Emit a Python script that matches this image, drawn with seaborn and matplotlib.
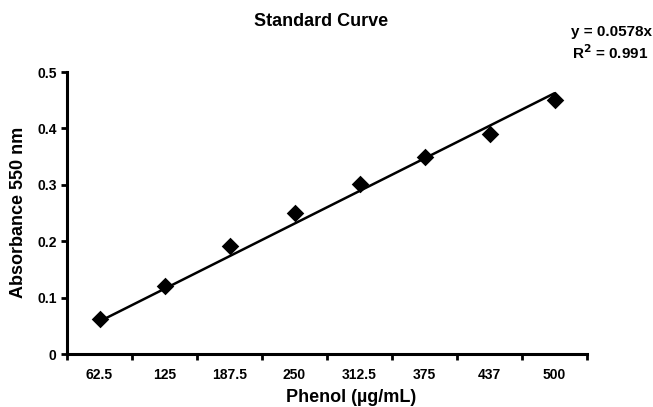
import numpy as np
import pandas as pd
import seaborn as sns
import matplotlib.pyplot as plt

# Standard curve data
phenol_labels = ['62.5', '125', '187.5', '250', '312.5', '375', '437', '500']
absorbance = [0.062, 0.120, 0.191, 0.250, 0.301, 0.349, 0.390, 0.450]
slope = 0.0578
r_squared = 0.991

df = pd.DataFrame({'idx': np.arange(1, len(phenol_labels) + 1), 'abs': absorbance})
df['fit'] = slope * df['idx']

sns.set_style('white')
plt.rcParams['font.family'] = ['Liberation Sans', 'DejaVu Sans']
plt.rcParams['font.weight'] = 'bold'
plt.rcParams['text.color'] = 'black'
plt.rcParams['axes.labelcolor'] = 'black'
plt.rcParams['xtick.color'] = 'black'
plt.rcParams['ytick.color'] = 'black'

fig = plt.figure(figsize=(6.53, 4.07), dpi=100)
ax = fig.add_axes([67 / 653, 1 - 354 / 407, (587 - 67) / 653, (354 - 72) / 407])

sns.lineplot(data=df, x='idx', y='fit', color='black', linewidth=1.8, ax=ax)
sns.scatterplot(data=df, x='idx', y='abs', marker='D', s=80, color='black',
                edgecolor='black', linewidth=0, ax=ax, zorder=3)

ax.set_xlim(0.5, len(phenol_labels) + 0.5)
ax.set_ylim(0, 0.5)
ax.set_yticks([0, 0.1, 0.2, 0.3, 0.4, 0.5])
ax.set_yticklabels(['0', '0.1', '0.2', '0.3', '0.4', '0.5'], fontsize=10, fontweight='bold')

# category labels centred, tick marks between categories
ax.set_xticks(np.arange(0.5, len(phenol_labels) + 1, 1))
ax.set_xticklabels([])
ax.set_xticks(df['idx'], minor=True)
ax.set_xticklabels(phenol_labels, minor=True, fontsize=10, fontweight='bold')
ax.tick_params(axis='x', which='minor', length=0, pad=10)
ax.tick_params(axis='both', which='major', direction='out', length=4, width=2, color='black',
               bottom=True, left=True)

for side in ['top', 'right']:
    ax.spines[side].set_visible(False)
for side in ['left', 'bottom']:
    ax.spines[side].set_linewidth(2.2)
    ax.spines[side].set_color('black')

ax.set_xlabel('')
ax.set_ylabel('')
fig.text(351 / 653, 1 - 402 / 407, 'Phenol (µg/mL)', ha='center', va='baseline',
         fontsize=13, fontweight='bold')
fig.text(18.5 / 653, 1 - 212 / 407, 'Absorbance 550 nm', ha='center', va='center',
         rotation=90, fontsize=13, fontweight='bold')

fig.text(321 / 653, 1 - 22 / 407, 'Standard Curve', ha='center', va='center',
         fontsize=13, fontweight='bold')
fig.text(652 / 653, 1 - 32 / 407, f'y = {slope}x', ha='right', va='center',
         fontsize=11, fontweight='bold')
fig.text(610 / 653, 1 - 53 / 407, f'R$^{{2}}$ = {r_squared}', ha='center', va='center',
         fontsize=11, fontweight='bold')

plt.savefig('out.png', dpi=100)
